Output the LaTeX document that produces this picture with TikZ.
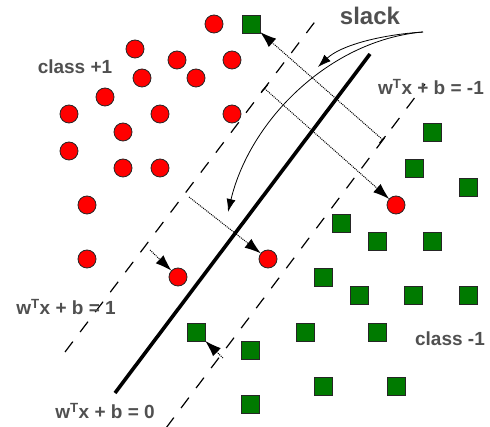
\documentclass[tikz,border=0pt]{standalone}
\usepackage{fontspec}
\setmainfont{Liberation Sans}
\usetikzlibrary{arrows.meta}
\definecolor{posred}{RGB}{255,0,0}
\definecolor{neggreen}{RGB}{0,122,0}
\definecolor{labelgray}{RGB}{80,80,80}

\begin{document}
\begin{tikzpicture}[x=1pt, y=-1pt,
    posdot/.style={circle, draw=black!85, fill=posred, minimum size=18pt, inner sep=0pt, line width=0.8pt},
    negbox/.style={rectangle, draw=black!85, fill=neggreen, minimum size=18pt, inner sep=0pt, line width=0.8pt},
    lbl/.style={text=labelgray, font=\fontsize{19}{21}\selectfont\bfseries, inner sep=0pt},
    marginline/.style={line width=1.2pt, dash pattern=on 13pt off 12pt},
    slackarrow/.style={line width=1pt, dash pattern=on 1pt off 1pt},
    sliptip/.style={-{Latex[length=16pt, width=11pt, line width=0pt]}},
    bendarrow/.style={line width=0.8pt, -{Latex[length=13pt, width=9pt]}}]
  \useasboundingbox (0,0) rectangle (490,427);

  % --- separating hyperplane and margins ---
  \draw[line width=3.6pt] (115,393) -- (370,54);
  \draw[marginline] (65,352) -- (320,15);
  \draw[marginline] (166,428) -- (425,84);

  % --- class +1 (red circles) ---
  \foreach \x/\y [count=\i] in {214/24, 135/49, 177/60, 232/60, 142/78, 196/78,
      105/97, 69/114, 160/114, 232/114, 123/132, 69/151, 123/168, 160/168,
      87/205, 87/259}
    \node[posdot] (p\i) at (\x,\y) {};
  \node[posdot] (pin)  at (178,277) {};
  \node[posdot] (pmid) at (268,259) {};
  \node[posdot] (pfar) at (396,205) {};

  % --- class -1 (green squares) ---
  \foreach \x/\y [count=\i] in {432/132, 414/168, 468/187, 341/223, 377/241,
      432/241, 323/277, 359/295, 413/295, 468/295, 305/332, 377/332,
      250/350, 323/386, 396/386, 250/404}
    \node[negbox] (n\i) at (\x,\y) {};
  \node[negbox] (ntop) at (251,24) {};
  \node[negbox] (nin)  at (196,332) {};

  % --- slack distances ---
  \coordinate (sA) at (383,140);
  \coordinate (sB) at (264,88);
  \coordinate (sC) at (150,250);
  \coordinate (sD) at (189,197);
  \coordinate (sE) at (223,358);
  \draw[slackarrow, {Bar[width=9pt, line width=1.2pt]}-{Latex[length=16pt, width=11pt, line width=0pt]}] (sA) -- (ntop);
  \draw[slackarrow, {Bar[width=9pt, line width=1.2pt]}-{Latex[length=16pt, width=11pt, line width=0pt]}] (sB) -- (pfar);
  \draw[slackarrow, sliptip] (sC) -- (pin);
  \draw[slackarrow, sliptip] (sD) -- (pmid);
  \draw[slackarrow, sliptip] (sE) -- (nin);

  % --- pointers from the "slack" label ---
  \coordinate (bendfrom) at (423,32);
  \coordinate (bendA) at (318,67);
  \coordinate (bendB) at (228,212);
  \draw[bendarrow] (bendfrom) .. controls (378,35) and (340,46) .. (bendA);
  \draw[bendarrow] (bendfrom) .. controls (330,40) and (250,120) .. (bendB);

  % --- labels ---
  \node[lbl, font=\fontsize{24}{26}\selectfont\bfseries] (slack) at (370,16) {slack};
  \node[lbl] (cpos) at (75,67) {class +1};
  \node[lbl] (cneg) at (450,339) {class -1};
  \node[lbl] (hm) at (431,87) {w\textsuperscript{T}x + b = -1};
  \node[lbl] (hp) at (66,307) {w\textsuperscript{T}x + b = 1};
  \node[lbl] (h0) at (105,411) {w\textsuperscript{T}x + b = 0};
\end{tikzpicture}
\end{document}
